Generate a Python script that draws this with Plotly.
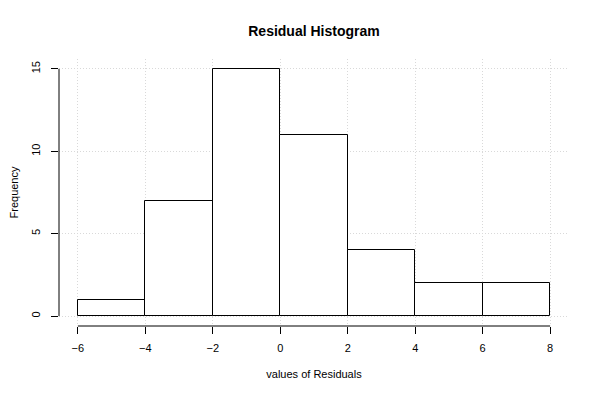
import plotly.graph_objects as go

bin_edges = [-6, -4, -2, 0, 2, 4, 6, 8]
counts = [1, 7, 15, 11, 4, 2, 2]
x_ticks = [-6, -4, -2, 0, 2, 4, 6, 8]
y_ticks = [0, 5, 10, 15]

centers = [(a + b) / 2 for a, b in zip(bin_edges[:-1], bin_edges[1:])]
widths = [b - a for a, b in zip(bin_edges[:-1], bin_edges[1:])]

fig = go.Figure()
fig.add_trace(go.Bar(
    x=centers, y=counts, width=widths,
    marker=dict(color="white", line=dict(color="black", width=1)),
    showlegend=False, hoverinfo="skip",
))

font = "Liberation Sans, Arial, Helvetica, sans-serif"
xr = [bin_edges[0] - 0.04 * (bin_edges[-1] - bin_edges[0]), bin_edges[-1] + 0.04 * (bin_edges[-1] - bin_edges[0])]
ymax = y_ticks[-1]
yr = [-0.04 * ymax, ymax * 1.04]

fig.update_layout(
    width=600, height=400,
    margin=dict(l=51, r=39, t=51, b=82),
    paper_bgcolor="white", plot_bgcolor="white",
    font=dict(family=font, size=11, color="black"),
    bargap=0,
    title=dict(text="<b>Residual Histogram</b>", x=0.5, xref="paper", y=1 - 23 / 400,
               yref="container", xanchor="center", yanchor="middle",
               font=dict(size=14, family=font, color="black")),
    xaxis=dict(range=xr, tickvals=x_ticks, ticks="outside", ticklen=7, tickcolor="black",
               showline=False, zeroline=False, showgrid=True, gridcolor="#d9d9d9",
               griddash="1px,2px", gridwidth=1, automargin=False,
               ticklabelstandoff=5,
               title=dict(text="values of Residuals", standoff=17, font=dict(size=11))),
    yaxis=dict(range=yr, tickvals=y_ticks, ticks="outside", ticklen=7, tickcolor="black",
               showline=False, zeroline=False, showgrid=True, gridcolor="#d9d9d9",
               griddash="1px,2px", gridwidth=1, tickangle=-90, automargin=False,
               ticklabelstandoff=7,
               title=dict(text="Frequency", standoff=13, font=dict(size=11))),
)

fig.add_shape(type="line", xref="x", yref="paper", x0=x_ticks[0], x1=x_ticks[-1], y0=0, y1=0,
              line=dict(color="black", width=1))
fig.add_shape(type="line", xref="paper", yref="y", x0=0, x1=0, y0=y_ticks[0], y1=y_ticks[-1],
              line=dict(color="black", width=1))

fig.write_html("out.html")
